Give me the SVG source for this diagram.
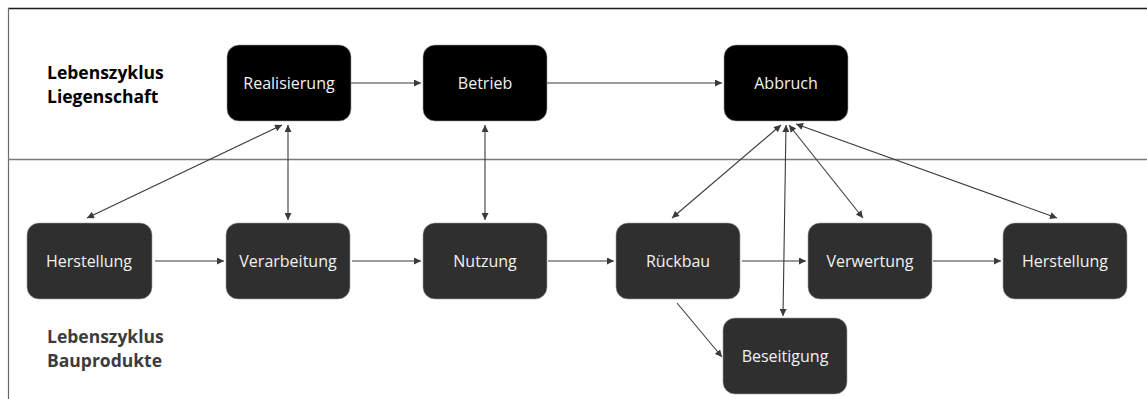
<svg xmlns="http://www.w3.org/2000/svg" width="1147" height="399" viewBox="0 0 1147 399">
<defs>
<marker id="ah" viewBox="0 0 10 10" refX="10" refY="5" markerWidth="8" markerHeight="7" markerUnits="userSpaceOnUse" orient="auto-start-reverse">
<path d="M0,0 L10,5 L0,10 z" fill="#3a3a3a"/>
</marker>
<style>
.top rect{fill:#000;stroke:#9a9a9a;stroke-width:0.6}
.bot rect{fill:#2f2f2f;stroke:#9a9a9a;stroke-width:0.6}
.node text{font-family:"Open Sans","Noto Sans",sans-serif;font-size:16px;fill:#f2f2f2;text-anchor:middle}
.lbl{font-family:"Open Sans","Noto Sans",sans-serif;font-size:17.5px;font-weight:bold}
#connectors line{stroke:#3a3a3a;stroke-width:1.1;fill:none}
</style>
</defs>
<rect x="0" y="0" width="1147" height="399" fill="#fff"/>
<g id="frame">
<line x1="8" y1="8.5" x2="1147" y2="8.5" stroke="#1a1a1a" stroke-width="1.4"/>
<line x1="8.5" y1="8" x2="8.5" y2="399" stroke="#6a6a6a" stroke-width="1.2"/>
<line x1="8" y1="159.5" x2="1147" y2="159.5" stroke="#7a7a7a" stroke-width="1.4"/>
</g>
<g id="labels">
<text class="lbl" x="47" y="79" fill="#000">Lebenszyklus</text>
<text class="lbl" x="47" y="103" fill="#000">Liegenschaft</text>
<text class="lbl" x="47" y="343" fill="#3c3c3c">Lebenszyklus</text>
<text class="lbl" x="47" y="367" fill="#3c3c3c">Bauprodukte</text>
</g>
<g id="connectors">
<line x1="351" y1="83" x2="421" y2="83" marker-end="url(#ah)"/>
<line x1="547" y1="83" x2="722" y2="83" marker-end="url(#ah)"/>
<line x1="155" y1="261" x2="224" y2="261" marker-end="url(#ah)"/>
<line x1="352" y1="261" x2="421" y2="261" marker-end="url(#ah)"/>
<line x1="548" y1="261" x2="614" y2="261" marker-end="url(#ah)"/>
<line x1="742" y1="261" x2="806" y2="261" marker-end="url(#ah)"/>
<line x1="933" y1="261" x2="1001" y2="261" marker-end="url(#ah)"/>
<line x1="677" y1="303" x2="722" y2="357" marker-end="url(#ah)"/>
<line x1="282" y1="125" x2="87" y2="218" marker-start="url(#ah)" marker-end="url(#ah)"/>
<line x1="288" y1="125" x2="288" y2="220" marker-start="url(#ah)" marker-end="url(#ah)"/>
<line x1="485" y1="125" x2="485" y2="220" marker-start="url(#ah)" marker-end="url(#ah)"/>
<line x1="781" y1="125" x2="672" y2="218" marker-start="url(#ah)" marker-end="url(#ah)"/>
<line x1="786" y1="125" x2="783" y2="316" marker-start="url(#ah)" marker-end="url(#ah)"/>
<line x1="789" y1="125" x2="863" y2="218" marker-start="url(#ah)" marker-end="url(#ah)"/>
<line x1="796" y1="124" x2="1057" y2="218" marker-start="url(#ah)" marker-end="url(#ah)"/>
</g>
<g id="n-realisierung" class="node top"><rect x="227" y="45" width="124" height="76" rx="12"/><text x="289" y="89">Realisierung</text></g>
<g id="n-betrieb" class="node top"><rect x="423" y="45" width="124" height="76" rx="12"/><text x="485" y="89">Betrieb</text></g>
<g id="n-abbruch" class="node top"><rect x="724" y="45" width="124" height="76" rx="12"/><text x="786" y="89">Abbruch</text></g>
<g id="n-herstellung1" class="node bot"><rect x="27" y="223" width="125" height="76" rx="12"/><text x="89" y="267">Herstellung</text></g>
<g id="n-verarbeitung" class="node bot"><rect x="226" y="223" width="124" height="76" rx="12"/><text x="288" y="267">Verarbeitung</text></g>
<g id="n-nutzung" class="node bot"><rect x="423" y="223" width="124" height="76" rx="12"/><text x="485" y="267">Nutzung</text></g>
<g id="n-rueckbau" class="node bot"><rect x="616" y="223" width="124" height="76" rx="12"/><text x="678" y="267">Rückbau</text></g>
<g id="n-verwertung" class="node bot"><rect x="808" y="223" width="124" height="76" rx="12"/><text x="870" y="267">Verwertung</text></g>
<g id="n-herstellung2" class="node bot"><rect x="1003" y="223" width="124" height="76" rx="12"/><text x="1065" y="267">Herstellung</text></g>
<g id="n-beseitigung" class="node bot"><rect x="723" y="318" width="124" height="76" rx="12"/><text x="785" y="362">Beseitigung</text></g>
</svg>
